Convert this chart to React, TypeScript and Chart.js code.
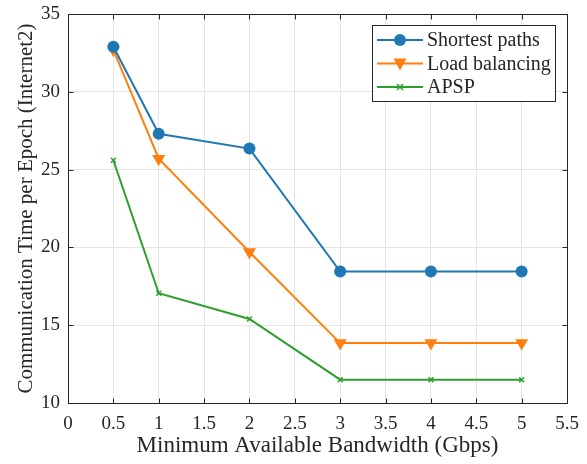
import React, { useEffect, useRef } from "react";
import { Chart, registerables } from "chart.js";
Chart.register(...registerables);

const bandwidth = [0.5, 1, 2, 3, 4, 5];
const shortestPaths = [32.9, 27.3, 26.35, 18.45, 18.45, 18.45];
const loadBalancing = [32.7, 25.7, 19.7, 13.85, 13.85, 13.85];
const apsp = [25.6, 17.05, 15.4, 11.5, 11.5, 11.5];
const seriesNames = ["Shortest paths", "Load balancing", "APSP"];
const seriesColors = ["#1f77b4", "#ff7f0e", "#2ca02c"];
const xTitle = "Minimum Available Bandwidth (Gbps)";
const yTitle = "Communication Time per Epoch (Internet2)";

const FONT = "'Liberation Serif', 'Times New Roman', serif";

function drawMarker(ctx: CanvasRenderingContext2D, kind: string, x: number, y: number, color: string) {
  ctx.save();
  ctx.fillStyle = color;
  ctx.strokeStyle = color;
  if (kind === "circle") {
    ctx.beginPath();
    ctx.arc(x, y, 6, 0, Math.PI * 2);
    ctx.fill();
  } else if (kind === "tri") {
    ctx.beginPath();
    ctx.moveTo(x - 6.5, y - 5);
    ctx.lineTo(x + 6.5, y - 5);
    ctx.lineTo(x, y + 7);
    ctx.closePath();
    ctx.fill();
  } else {
    ctx.lineWidth = 1.5;
    ctx.beginPath();
    ctx.moveTo(x - 3, y - 3);
    ctx.lineTo(x + 3, y + 3);
    ctx.moveTo(x + 3, y - 3);
    ctx.lineTo(x - 3, y + 3);
    ctx.stroke();
  }
  ctx.restore();
}

const framePlugin = {
  id: "frame",
  afterDraw(chart: any) {
    const ctx = chart.ctx as CanvasRenderingContext2D;
    const { left, right, top, bottom } = chart.chartArea;
    const xs = chart.scales.x;
    const ys = chart.scales.y;
    ctx.save();
    ctx.strokeStyle = "#262626";
    ctx.lineWidth = 1;
    const L = Math.round(left) + 0.5, R = Math.round(right) + 0.5, T = Math.round(top) + 0.5, B = Math.round(bottom) + 0.5;
    ctx.beginPath();
    ctx.rect(L, T, R - L, B - T);
    ctx.stroke();
    const tl = 5;
    ctx.beginPath();
    xs.ticks.forEach((t: any) => {
      const px = Math.round(xs.getPixelForValue(t.value)) + 0.5;
      ctx.moveTo(px, B); ctx.lineTo(px, B - tl);
      ctx.moveTo(px, T); ctx.lineTo(px, T + tl);
    });
    ys.ticks.forEach((t: any) => {
      const py = Math.round(ys.getPixelForValue(t.value)) + 0.5;
      ctx.moveTo(L, py); ctx.lineTo(L + tl, py);
      ctx.moveTo(R, py); ctx.lineTo(R - tl, py);
    });
    ctx.stroke();

    // legend
    const bx = 372.5, by = 25.5, bw = 183, bh = 76;
    ctx.fillStyle = "#ffffff";
    ctx.fillRect(bx, by, bw, bh);
    ctx.strokeStyle = "#262626";
    ctx.strokeRect(bx, by, bw, bh);
    const kinds = ["circle", "tri", "cross"];
    const rows = [40, 63.5, 87];
    ctx.font = `20px ${FONT}`;
    ctx.textBaseline = "middle";
    ctx.textAlign = "left";
    seriesNames.forEach((name, i) => {
      const y = rows[i];
      ctx.strokeStyle = seriesColors[i];
      ctx.lineWidth = 2;
      ctx.beginPath();
      ctx.moveTo(377, y);
      ctx.lineTo(423, y);
      ctx.stroke();
      drawMarker(ctx, kinds[i], 400, y, seriesColors[i]);
      ctx.fillStyle = "#262626";
      ctx.fillText(name, 427, y + 1);
    });
    ctx.restore();
  },
};

export default function App() {
  const ref = useRef<HTMLCanvasElement | null>(null);
  useEffect(() => {
    if (!ref.current) return;
    const mk = (vals: number[]) => bandwidth.map((x, i) => ({ x, y: vals[i] }));
    const chart = new Chart(ref.current, {
      type: "line",
      data: {
        datasets: [
          {
            label: seriesNames[0],
            data: mk(shortestPaths),
            borderColor: seriesColors[0],
            backgroundColor: seriesColors[0],
            borderWidth: 2,
            pointStyle: "circle",
            pointRadius: 6,
            pointBorderWidth: 0,
          },
          {
            label: seriesNames[1],
            data: mk(loadBalancing),
            borderColor: seriesColors[1],
            backgroundColor: seriesColors[1],
            borderWidth: 2,
            pointStyle: "triangle",
            pointRotation: 180,
            pointRadius: 7.5,
            pointBorderWidth: 0,
          },
          {
            label: seriesNames[2],
            data: mk(apsp),
            borderColor: seriesColors[2],
            backgroundColor: seriesColors[2],
            borderWidth: 2,
            pointStyle: "crossRot",
            pointRadius: 3.5,
            pointBorderWidth: 1.5,
          },
        ],
      },
      options: {
        responsive: false,
        animation: false,
        layout: { padding: { left: 0, top: 14, right: 20, bottom: 0 } },
        plugins: { legend: { display: false }, tooltip: { enabled: false } },
        scales: {
          x: {
            type: "linear",
            min: 0,
            max: 5.5,
            afterFit: (s: any) => { s.height = 61; s.paddingLeft = 0; s.paddingRight = 0; },
            ticks: {
              stepSize: 0.5,
              color: "#262626",
              font: { family: FONT, size: 19 },
              padding: 10,
              maxRotation: 0,
              callback: (v: any) => String(Math.round(Number(v) * 10) / 10),
            },
            grid: { color: "#e5e5e5", drawTicks: false },
            border: { display: false },
            title: { display: true, text: xTitle, color: "#262626", font: { family: FONT, size: 23 }, padding: { top: 0, bottom: 4 } },
          },
          y: {
            min: 10,
            max: 35,
            afterFit: (s: any) => { s.width = 68; s.paddingTop = 0; s.paddingBottom = 0; },
            ticks: { stepSize: 5, color: "#262626", font: { family: FONT, size: 19 }, padding: 8 },
            grid: { color: "#e5e5e5", drawTicks: false },
            border: { display: false },
            title: { display: true, text: yTitle, color: "#262626", font: { family: FONT, size: 21 }, padding: { top: 14, bottom: 0 } },
          },
        },
      },
      plugins: [framePlugin],
    } as any);
    return () => chart.destroy();
  }, []);
  return (
    <div style={{ position: "absolute", left: 0, top: 0, width: 587, height: 464, background: "#fff" }}>
      <canvas ref={ref} width={587} height={464} style={{ width: 587, height: 464 }} />
    </div>
  );
}
